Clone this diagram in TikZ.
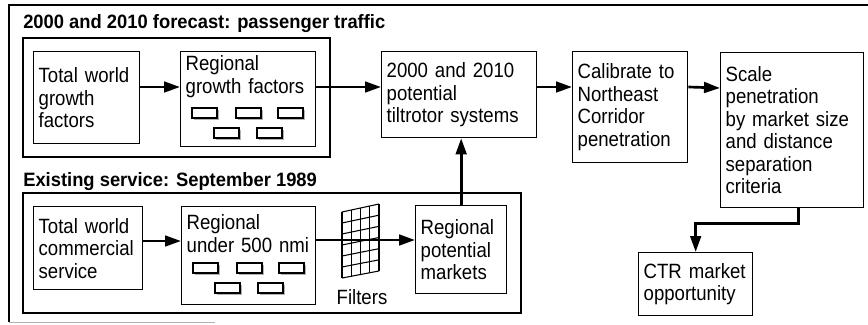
\documentclass[tikz,border=0pt]{standalone}
\usepackage{fontspec}
\setmainfont{Liberation Sans}[FakeStretch=0.9]
\newfontfamily\ttlfont{Liberation Sans}[FakeStretch=0.95]
\usetikzlibrary{arrows.meta,calc}

\tikzset{
  box/.style={draw, line width=1pt, align=left, anchor=north west, inner xsep=3.75pt, inner ysep=3pt, font=\fontsize{15.5}{16.9}\selectfont},
  group/.style={draw, line width=2pt},
  title/.style={anchor=base west, inner sep=0pt, font=\ttlfont\fontsize{14.5}{16}\selectfont\bfseries},
  lbl/.style={inner sep=0pt, font=\fontsize{15.5}{16.9}\selectfont},
  arr/.style={line width=2pt, -{Triangle[length=12pt,width=8pt]}},
  chip/.style={draw, fill=white, line width=0.8pt},
  fgline/.style={line width=0.8pt},
}

\begin{document}
\begin{tikzpicture}[x=0.75pt,y=0.75pt,yscale=-1,xscale=1]
\useasboundingbox (0,0) rectangle (868,325);

%Straight Lines [outer frame]
\draw[line width=1pt] (9,322) -- (9,5) -- (868,5);
\draw[line width=0.6pt, gray!60] (9,322) -- (215,322);

% Text Node
\node[title] (ttl1) at (23,28) {2000 and 2010 forecast: passenger traffic};
% Text Node
\node[title] (ttl2) at (23,186) {Existing service: September 1989};

%Shape: Rectangle [forecast group]
\draw[group] (23,38) rectangle (330,157);
%Shape: Rectangle [existing group]
\draw[group] (23,193) rectangle (521,313);

% upper row
\node[box, minimum width=79.5pt, minimum height=69pt, text width=72pt] (twgf) at (33,51) {Total world\\growth\\factors};
\node[box, minimum width=101.25pt, minimum height=71.25pt, text width=93.75pt, text depth=54pt] (rgf) at (180,51) {Regional\\growth factors};
\node[box, minimum width=116.25pt, minimum height=64.5pt, text width=108.75pt] (tts) at (381,51) {2000 and 2010\\potential\\tiltrotor systems};
\node[box, minimum width=86.25pt, minimum height=83.25pt, text width=78.75pt] (cal) at (572,51) {Calibrate to\\Northeast\\Corridor\\penetration};
\node[box, minimum width=107.25pt, minimum height=116.25pt, text width=99.75pt] (scl) at (720,52) {Scale\\penetration\\by market size\\and distance\\separation\\criteria};

% lower row
\node[box, minimum width=81.75pt, minimum height=62.25pt, text width=74.25pt] (twcs) at (33,206) {Total world\\commercial\\service};
\node[box, minimum width=100.5pt, minimum height=73.5pt, text width=93pt, inner ysep=6pt, text depth=50.2pt] (run) at (181,206) {Regional\\under 500 nmi};
\node[box, minimum width=68.25pt, minimum height=66pt, text width=60.75pt] (rpm) at (415,205) {Regional\\potential\\markets};
\node[box, minimum width=85.5pt, minimum height=47.25pt, text width=78pt] (ctr) at (638,252) {CTR market\\opportunity};

% small region boxes
\foreach \b in {rgf,run}
  \foreach \dx/\dy in {12/57,56/57,98/57,34/77,77/77} {
    \fill[gray!60] ([shift={(\dx+1.5,\dy+1.5)}]\b.north west) rectangle ++(25,10);
    \draw[chip] ([shift={(\dx,\dy)}]\b.north west) rectangle ++(25,10);
  }

% arrows
\draw[arr] ([shift={(0,36)}]twgf.north east) -- ([shift={(0,36)}]rgf.north west);
\draw[arr] ([shift={(0,36)}]rgf.north east) -- ([shift={(0,36)}]tts.north west);
\draw[arr] ([shift={(0,36)}]tts.north east) -- ([shift={(0,36)}]cal.north west);
\draw[arr] ([shift={(0,36)}]cal.north east) -- ([shift={(0,36)}]scl.north west);
\draw[arr] ([shift={(0,35)}]twcs.north east) -- ([shift={(0,35)}]run.north west);
\draw[arr] ([shift={(0,34)}]run.north east) -- ([shift={(0,35)}]rpm.north west);
\draw[arr] (rpm.north) -- (rpm.north |- tts.south);
\draw[arr] ([shift={(6,0)}]scl.south) -- ++(0,15) -| (ctr.north);

% filter grid
\coordinate (fgtl) at (342,212);
\coordinate (fgtr) at (379,204);
\coordinate (fgbl) at (342,278);
\coordinate (fgbr) at (379,271);
\foreach \i in {0,...,4}
  \draw[fgline] ($(fgtl)!\i/4!(fgtr)$) -- ($(fgbl)!\i/4!(fgbr)$);
\foreach \j in {0,...,6}
  \draw[fgline] ($(fgtl)!\j/6!(fgbl)$) -- ($(fgtr)!\j/6!(fgbr)$);

% Text Node
\node[lbl] (flt) at (362,297) {Filters};
\end{tikzpicture}
\end{document}
